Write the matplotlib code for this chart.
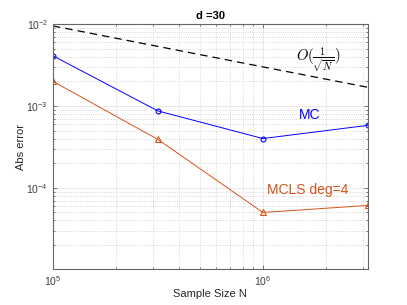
import numpy as np
import matplotlib
matplotlib.use('Agg')
import matplotlib.pyplot as plt

N = [1e5, 10**5.5, 1e6, 10**6.5]
mc_err = [4.1e-3, 8.7e-4, 4.0e-4, 5.8e-4]
mcls_err = [2.0e-3, 3.9e-4, 5.0e-5, 6.1e-5]
ref_rate = [9.5e-3, 5.34e-3, 3.0e-3, 1.69e-3]

orange = '#D95319'
plt.rcParams['font.family'] = ['Liberation Sans', 'DejaVu Sans']

fig = plt.figure(figsize=(4.07, 3.05), dpi=100)
ax = fig.add_axes([0.130, 0.118, 0.774, 0.803])

ax.loglog(N, ref_rate, 'k--', lw=0.9, dashes=(6, 4))
ax.loglog(N, mc_err, '-o', color='blue', lw=0.7, ms=3.5, mfc='none', mew=0.8)
ax.loglog(N, mcls_err, '-^', color=orange, lw=0.7, ms=5, mfc='none', mew=0.8)

ax.set_xlim(1e5, 10**6.5)
ax.set_ylim(1.02e-5, 1e-2)

ax.grid(True, which='major', ls='-', color='0.9', lw=0.6)
ax.grid(True, which='minor', ls=':', color='0.8', lw=0.6)

ax.tick_params(which='both', direction='in', top=True, right=True,
               labelsize=7.5, colors='0.25', width=0.5)
ax.tick_params(which='major', length=3)
ax.tick_params(which='minor', length=1.5)
ax.yaxis.set_minor_formatter(matplotlib.ticker.NullFormatter())
ax.xaxis.set_minor_formatter(matplotlib.ticker.NullFormatter())
for s in ax.spines.values():
    s.set_color('0.4')
    s.set_linewidth(0.8)

ax.set_title('d =30', fontsize=8, fontweight='bold', pad=4)
ax.set_xlabel('Sample Size N', fontsize=8, color='0.15', labelpad=1)
ax.set_ylabel('Abs error', fontsize=8, color='0.15', labelpad=0)

ax.text(1.83e6, 3.7e-3, r'$O(\frac{1}{\sqrt{N}})$', fontsize=10.5,
        ha='center', va='center', math_fontfamily='cm')
ax.text(1.67e6, 7.7e-4, 'MC', color='blue', fontsize=10, ha='center', va='center')
ax.text(1.63e6, 9.3e-5, 'MCLS deg=4', color=orange, fontsize=10, ha='center', va='center')

fig.savefig('out.png', dpi=100)
